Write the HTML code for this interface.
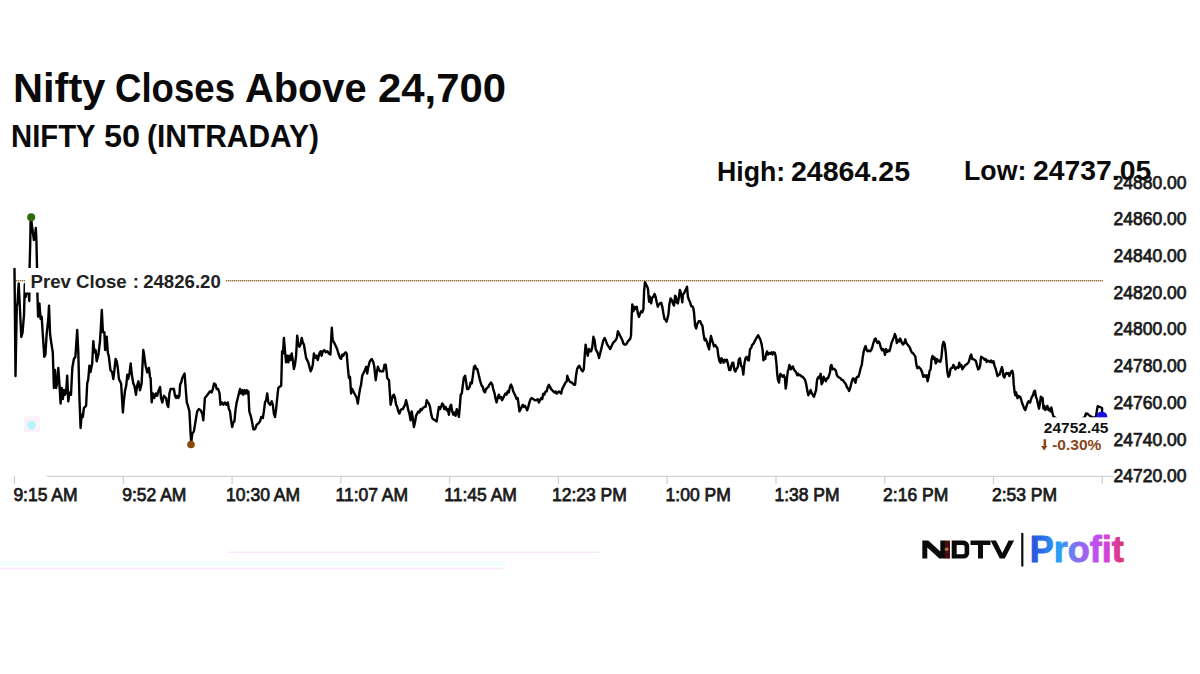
<!DOCTYPE html>
<html><head><meta charset="utf-8">
<style>
html,body{margin:0;padding:0;background:#fff;}
body{width:1200px;height:674px;position:relative;overflow:hidden;font-family:"Liberation Sans", sans-serif;}
.t{position:absolute;white-space:nowrap;font-weight:bold;color:#0a0a0a;line-height:1;transform-origin:0 0;}
#logo{position:absolute;left:0;top:0;}
</style></head><body>
<svg width="1200" height="674" viewBox="0 0 1200 674" style="position:absolute;left:0;top:0"><rect x="0" y="561" width="505" height="5" fill="#f3fdfe"/><line x1="228" y1="552.3" x2="600" y2="552.3" stroke="#fbe6fb" stroke-width="1.6"/><line x1="0" y1="568.5" x2="503" y2="568.5" stroke="#fbe4fb" stroke-width="1.6"/><line x1="46.5" y1="476.3" x2="1114" y2="476.3" stroke="#d4d4d4" stroke-width="1.2"/><line x1="14.5" y1="476" x2="14.5" y2="484" stroke="#d0d0d0" stroke-width="1.2"/><line x1="123.3" y1="476" x2="123.3" y2="484" stroke="#d0d0d0" stroke-width="1.2"/><line x1="232.1" y1="476" x2="232.1" y2="484" stroke="#d0d0d0" stroke-width="1.2"/><line x1="340.8" y1="476" x2="340.8" y2="484" stroke="#d0d0d0" stroke-width="1.2"/><line x1="449.6" y1="476" x2="449.6" y2="484" stroke="#d0d0d0" stroke-width="1.2"/><line x1="558.4" y1="476" x2="558.4" y2="484" stroke="#d0d0d0" stroke-width="1.2"/><line x1="667.2" y1="476" x2="667.2" y2="484" stroke="#d0d0d0" stroke-width="1.2"/><line x1="776.0" y1="476" x2="776.0" y2="484" stroke="#d0d0d0" stroke-width="1.2"/><line x1="884.7" y1="476" x2="884.7" y2="484" stroke="#d0d0d0" stroke-width="1.2"/><line x1="993.5" y1="476" x2="993.5" y2="484" stroke="#d0d0d0" stroke-width="1.2"/><line x1="1102.3" y1="476" x2="1102.3" y2="484" stroke="#d0d0d0" stroke-width="1.2"/><line x1="14" y1="280.8" x2="1103" y2="280.8" stroke="#d6b480" stroke-width="1.1"/><line x1="14" y1="280.8" x2="1103" y2="280.8" stroke="#6a5030" stroke-width="1.1" stroke-dasharray="1,1"/><rect x="24" y="416" width="16" height="16" fill="#fdf2fc"/><circle cx="31.5" cy="425.1" r="4.3" fill="#b4f6f8"/><path d="M14.5,269 L15.5,376 L16.8,306 L17.5,303 L18.7,283.4 L21.3,337 L22.5,333 L24,315 L24.8,284.3 L25.6,297 L26.5,292 L28.5,292.5 L29.3,301 L29.6,267 L30.2,245 L30.6,222 L31.2,218 L31.6,223 L33.9,240 L35,236 L35.8,228 L36.4,240 L37,267 L37.4,294 L38.1,316.7 L39.4,303.4 L40.6,319 L41.7,316.7 L42.8,334.5 L44.3,356.8 L45.4,354.6 L46.6,334.5 L48.3,319 L49,305.6 L50.1,334.5 L51.7,345.7 L52.8,352.4 L53.9,388 L55,370 L56.1,388 L57.2,383.5 L58.3,368 L59.4,383.5 L60.6,403.6 L61.7,388 L62.8,399 L63.9,390 L65,394.7 L66.1,392.5 L67.2,375.7 L68.3,401.4 L69.4,392.5 L71,394.7 L72.3,368 L73.9,359 L75.4,356.8 L77.2,330 L78.3,352.4 L79.4,396.9 L80.6,428 L81.7,414.7 L82.8,417 L83.9,408 L86.1,405.8 L87.2,383.5 L88.3,379 L89.4,365.7 L90.5,372 L92.2,363.5 L93.3,341.2 L94.4,352.4 L95.6,350 L96.7,361.3 L98.4,354.6 L100,341.2 L101.1,323.4 L101.8,310 L102.9,332.3 L104.4,332.3 L105.1,350 L106.7,336.8 L107.8,352.4 L108.9,356.8 L110.4,370 L112.2,372.4 L113.3,379 L114.4,370 L115.6,359 L116.7,361.3 L117.8,368 L118.9,379 L120,381.3 L121.1,383.5 L122.2,401.4 L122.9,412.5 L123.8,401.4 L125.1,390.2 L126.2,385.8 L127.3,374.6 L128.2,379 L129.6,372.4 L130.7,363.5 L131.8,374.6 L133.3,383.5 L134.4,385.8 L136,394.7 L137.1,385.8 L138.4,381.3 L140,390.2 L141.6,383.5 L143.3,350 L144.4,356.8 L145.6,365.7 L147.3,372.4 L148.9,368 L150,377 L150.6,378 L151.7,402.4 L152.8,393.5 L154.3,398 L155.7,393.5 L157.2,395.8 L158.3,391.3 L160.1,386.9 L161,398 L162.3,402.4 L163.9,395.8 L166.1,398 L167.2,404.7 L168.3,407 L169.4,393.5 L170.6,389 L172.1,389 L173.9,389 L175,395.8 L176.1,398 L177.2,395.8 L178.3,398 L179.4,395.8 L180.1,384.6 L181.2,382.4 L182.3,378 L183.4,375.7 L184.6,373.5 L185.4,384.6 L186.8,402.4 L188.3,407 L189.4,411.4 L190.6,433.6 L191.2,442.5 L192.3,433.6 L193.9,431.4 L195.7,420.3 L197.2,411.4 L198.8,409.1 L200.6,410.2 L202.3,413.6 L203.3,420.3 L204.9,398 L206.7,395.8 L208.4,393.5 L210,391.3 L211.6,392.4 L212.9,389 L214,383.5 L215.6,384.6 L216.7,389 L218.2,389 L219.6,393.5 L220.4,404.7 L221.8,402.4 L223.3,404.7 L224.9,402.4 L226.2,404.7 L227.8,402.4 L228.9,409.1 L230,411.4 L231.1,420.3 L232.2,427 L233.3,422.5 L234.4,421.4 L235.6,409.1 L236.7,402.4 L237.8,398 L238.9,393.5 L240,389 L241.1,393.5 L242.2,390.2 L243.3,394.7 L244.4,390.2 L245.6,393.5 L246.7,390.2 L247.8,393.5 L248.4,391.3 L249.3,411.4 L250.7,415.8 L252.2,422.5 L253.3,429.2 L255.1,429.2 L256.7,424.7 L258.2,423.6 L260,421.4 L261.2,417 L262.8,418 L263.9,411.4 L265,402.4 L266.1,400.2 L267.2,393.5 L268.3,402.4 L270.1,404.7 L271.7,401.3 L272.8,404.7 L273.9,413.6 L275,417 L276.1,409.1 L277.2,398 L278.3,388 L279.4,386.9 L281.2,385.7 L282.1,351.2 L283,353.5 L283.9,337.9 L285,351.2 L286.1,362.4 L287.2,355.7 L288.3,362.4 L289.4,355.7 L290.6,360.1 L291.7,353.5 L292.8,360.1 L293.9,369 L295,364.6 L296.1,355.7 L297.2,335.6 L298.3,344.5 L299.4,346.8 L300.6,344.5 L301.7,337.9 L302.8,342.3 L303.9,344.5 L305,351.2 L306.1,357.9 L307.2,360.1 L308.3,362.4 L309.4,366.8 L310.6,371.3 L311.7,369 L312.8,364.6 L313.9,353.5 L315.6,357.9 L316.7,355.7 L317.8,360.1 L319.3,353.5 L320.7,351.2 L321.6,355.7 L322.9,351.2 L324.4,350.1 L325.6,352.3 L327.3,351.2 L328.9,353.5 L330.4,354.6 L331.8,327.8 L332.7,340.1 L334,342.3 L335.6,345.7 L337.1,349 L338.4,353.5 L340,357.9 L341.1,359 L342.2,354.6 L343.3,355.7 L344.4,353.5 L345.6,352.3 L346.7,353.5 L347.8,366.8 L348.9,378 L350,376.8 L351.1,393.5 L352.2,389 L353.3,391.3 L354.4,393.5 L355.6,395.8 L356.7,398 L357.8,403.6 L358.9,395.8 L360,389 L361.1,384.6 L362.2,375.7 L363.3,373.5 L364.4,371.3 L366.1,366.8 L367.2,373.5 L368.3,366.8 L369.9,361.2 L371.7,359 L373.4,362.4 L374.3,366.8 L375.7,380.2 L376.6,373.5 L377.9,366.8 L378.8,369 L380.1,371.3 L381.7,371.3 L383.2,371.3 L384.6,364.6 L385.7,364.6 L386.6,371.3 L387.2,378 L389,380.2 L389.9,393.5 L390.6,404.7 L391.7,400.2 L392.8,395.8 L393.9,394.7 L395,398 L396.1,404.7 L397.2,406.9 L398.3,411.4 L399.4,413.6 L400.6,410.2 L401.7,409.1 L402.8,409.1 L403.9,406.9 L405,404.7 L406.1,400.2 L407.2,404.7 L408.3,410.2 L409.4,413.6 L410.6,420.3 L411.7,411.4 L412.8,418 L413.9,427 L415,422.5 L416.1,415.8 L417.2,413.6 L418.3,411.4 L419.4,412.5 L420.6,409.1 L421.7,410.2 L422.8,408 L424.4,406.9 L425.6,406.9 L426.7,400.2 L427.8,402.4 L428.9,403.6 L430,406.9 L431.1,413.6 L432.2,418 L433.3,419.2 L435.1,420.3 L436.7,421.4 L437.8,413.6 L438.9,406.9 L440,409.1 L441.1,406.9 L442.2,403.6 L443.3,404.7 L444.4,409.1 L445.6,406.9 L446.7,410.2 L447.8,409.1 L448.9,414.7 L450,406.9 L451.1,404.7 L452.2,411.4 L453.3,414.7 L454.4,412.5 L455.6,415.8 L456.7,409.1 L457.8,411.4 L458.9,416.9 L460,404.7 L460.7,394.7 L461.8,393.5 L462.9,384.6 L463.8,378 L465.1,375.7 L466.2,382.4 L467.1,389 L468.4,389 L469.6,386.9 L470.7,382.4 L471.8,383.5 L472.9,375.7 L474,366.8 L475.1,365.7 L476.2,369 L477.3,369 L478.4,373.5 L480,380.2 L480.6,382.4 L481.7,385.7 L482.8,386.9 L483.9,391.3 L485,392.4 L486.1,389 L487.2,388 L488.3,386.9 L489.4,384.6 L491,382.4 L492.3,384.6 L493.2,389 L494.6,393.5 L495.4,398 L496.6,402.4 L497.7,398 L498.8,394.7 L499.9,398 L501,396.9 L502.1,400.2 L503.2,398 L504.3,395.8 L505.4,393.5 L506.6,394.7 L507.7,391.3 L508.8,392.4 L509.9,386.9 L511,384.6 L512.1,386.9 L513.2,391.3 L514.3,393.5 L515.4,395.8 L516.6,399.1 L517.7,398 L518.6,404.7 L519.4,411.4 L520.6,409.1 L521.7,406.9 L522.8,404.7 L523.9,406.9 L525,405.8 L526.1,408 L527.2,410.2 L528.3,406.9 L529.4,402.4 L530.6,399.1 L531.7,398 L533.2,399.1 L535,400.2 L536.2,400.3 L537.8,399.2 L538.9,402.5 L540,400.3 L541.1,398 L542.2,399.2 L543.3,393.6 L544.4,394.7 L545.6,391.4 L546.7,391.4 L547.8,386.9 L548.9,384.7 L550,386.9 L551.1,389.1 L552.2,390.2 L553.3,391.4 L554.4,392.5 L555.6,391.4 L556.7,393.6 L557.8,392.5 L558.9,391.4 L560,392.5 L561.1,393.6 L562.2,389.1 L563.3,386.9 L564.4,384.7 L565.6,382.4 L566.7,381.3 L567.3,375.8 L568.4,379.1 L569.6,381.3 L570.7,382.4 L571.8,382.4 L572.9,383.6 L574,384.7 L575.1,384.7 L576,375.8 L577.1,369.1 L578.2,366.9 L579.3,365.7 L580.4,368 L581.6,370.2 L582.7,371.3 L583.8,369.1 L584.7,355.7 L585.6,344.6 L586.7,351.3 L587.8,355.7 L588.9,349 L590,351.3 L591.2,351.3 L592.3,346.9 L593.4,336.8 L594.6,340.2 L595.7,349.1 L596.8,351.3 L597.9,353.5 L599,358 L600.1,353.5 L601.2,349.1 L602.3,344.6 L603.4,340.2 L604.6,338 L605.7,340.2 L606.8,343.5 L607.9,345.7 L609,346.9 L610.1,349.1 L611.2,346.9 L612.3,344.6 L613.4,342.4 L614.6,341.3 L615.7,340.2 L616.8,338 L617.9,331.3 L619,333.5 L620.1,335.7 L621.2,338 L622.3,340.2 L623.4,343.5 L624.6,344.6 L625.7,344.6 L626.8,343.5 L627.9,341.3 L629,340.2 L630.1,339.1 L631,335.7 L631.7,315.7 L632.3,304.5 L633.4,311.2 L634.6,306.8 L635.7,309 L636.8,306.8 L637.9,313.5 L639,316.8 L640.1,313.5 L641.2,311.2 L642.3,312.3 L643.4,309 L644.1,291.2 L645,282.2 L646.1,284.5 L647.2,286.7 L648,288.9 L648.7,297.8 L649.1,301.7 L650,296.7 L651.1,303.4 L652.2,297.8 L653.4,296.7 L654.5,293.9 L655.6,296.7 L656.7,302.3 L657.8,306.7 L658.9,304.5 L660,303.4 L661.2,302.8 L662.3,306.7 L663.4,313.4 L664.5,318.9 L665.6,320 L666.5,321.7 L667.3,318.9 L668.4,314.5 L669.5,303.4 L670.6,298.4 L671.7,300 L672.9,303.4 L674,305.6 L675.1,295.6 L675.9,296.7 L676.7,302.3 L677.9,303.4 L679,296.7 L679.9,290 L680.6,292.2 L681.4,295.6 L682.3,302.3 L682.9,294.5 L684,293.4 L685.1,291.1 L686.2,288.9 L687,286.7 L687.9,296.7 L689,300 L690.1,302.3 L691.2,306.2 L692.3,306.2 L693.2,307.8 L694,312.3 L695.1,325.6 L696.2,328.6 L697.2,324.1 L698.7,321.2 L700.2,321.2 L701.2,324.1 L702.4,325.6 L703.6,334.5 L704.7,340.4 L705.7,339 L706.9,341.9 L708.1,346.4 L709.1,349.3 L710.2,340.4 L711,336 L712.1,340.4 L713.1,343.4 L714,346.4 L715.1,344.9 L716.1,346.4 L717.3,347.9 L718.5,356.8 L719.5,361.2 L720.6,362.7 L721.4,358.2 L722.5,359.7 L723.5,362.7 L724.7,359.7 L725.9,361.2 L726.9,359.7 L728,364.2 L729.2,370.1 L730.4,370.1 L731.4,365.7 L732.4,362.7 L733.3,362.7 L734.4,370.1 L735.4,371.6 L736.6,368.6 L737.8,367.2 L738.8,359.7 L739.9,358.2 L741.1,365.7 L742.3,367.2 L743.3,374.6 L744.3,364.2 L745.5,358.2 L746.7,356.8 L747.7,359.7 L748.8,360.5 L750,349.3 L751.2,347.9 L752.2,344.9 L753.7,343.4 L755,340.4 L755.6,339.7 L757.1,336.7 L758.2,335.2 L759.2,337.4 L760.4,339.7 L761.6,344.1 L762.6,350.1 L763.4,360.4 L764.1,357.5 L765.2,359 L766,354.5 L767.1,351.5 L768.1,354.5 L769.3,353 L770.5,353.8 L771.5,352.3 L772.6,354.5 L773.8,352.3 L774.8,353 L775.6,356 L776.4,363.4 L777.2,373.8 L777.9,379.7 L779,382.7 L779.7,376.8 L780.5,373.8 L781.5,375.3 L782.7,376.8 L783.9,375.3 L784.9,378.2 L785.7,388.6 L786.4,384.2 L787.1,376.8 L787.9,370.8 L788.6,369.3 L789.4,364.9 L790.1,366.4 L790.9,369.3 L791.9,367.9 L792.8,366.4 L793.8,369.3 L794.9,370.8 L796.1,372.3 L797.3,375.3 L798.3,373.8 L799.3,375.3 L800.5,375.3 L801.7,376.8 L802.7,376.8 L803.8,378.2 L805,379.7 L806.2,384.2 L807.2,390.1 L808.3,395.3 L809.5,393.1 L810.6,390.1 L811.7,393.1 L812.7,394.6 L813.9,396.8 L815.1,393.1 L816.1,390.1 L816.9,381.2 L817.6,378.2 L818.7,376.8 L819.6,378.2 L820.6,373.8 L821.6,384.2 L822.5,382.7 L823.6,376.8 L824.6,379 L825.8,381.2 L827,378.2 L828,378.2 L829.1,375.3 L830,372.3 L830.6,366.4 L831.4,364.9 L832.5,369.3 L833.5,368.6 L834.7,369.3 L835.9,370.8 L836.9,375.3 L838,376.8 L839.2,377.5 L840.4,378.2 L841.4,379.7 L842.4,379.7 L843.6,381.2 L844.8,382.7 L845.9,384.2 L846.9,387.2 L848.1,388.6 L849.1,390.9 L850,388.6 L851.1,384.2 L852.3,379.7 L853.3,378.2 L854.3,379.7 L855.5,382.7 L856.3,378.2 L857.3,376.8 L858.5,376.8 L859.7,372.3 L860.7,367.9 L861.8,364.9 L862.7,357.5 L863.7,351.5 L865,347.1 L865.6,346 L866.7,350.4 L867.7,351.2 L868.9,350.4 L870.1,351.2 L871.1,350.4 L872.2,347.5 L873.4,343 L874.6,339.3 L875.6,338.6 L876.6,341.5 L877.5,343 L878.6,341.5 L879.6,343 L880.8,347.5 L882,350.4 L883,349 L884.1,350.4 L885,354.9 L886,349 L887,351.9 L888.2,350.4 L889.4,351.2 L890.5,347.5 L891.5,343 L892.7,340.1 L893.9,337.1 L894.9,334.1 L896,337.1 L896.8,343 L897.9,340.1 L898.9,341.5 L900.1,338.6 L900.9,340.1 L901.9,343 L903.1,344.5 L904.3,343 L905.3,339.3 L906.4,343 L907.5,344.5 L908.7,346 L909.8,347.5 L910.8,350.4 L912,352.7 L913.2,353.4 L914.2,354.9 L915.3,356.4 L916.5,365.3 L917.4,368.2 L918.7,366.8 L920,368.2 L920.9,369.3 L922.1,372.3 L923.2,376.8 L924.2,375.3 L925.4,376.8 L926.6,375.3 L927.6,381.2 L928.7,376.8 L929.6,370.8 L930.6,369.3 L931.6,359 L932.5,356 L933.6,359 L934.6,357.5 L935.8,363.4 L937,359 L938,361.2 L939.1,360.4 L940.3,361.9 L941.4,357.5 L942.5,345.6 L943.5,341.9 L944.7,344.1 L945.8,353 L946.6,363.4 L947.4,372.3 L948.4,376.8 L949.5,375.3 L950.4,369.3 L951.4,367.9 L952.4,367.9 L953.3,364.9 L954.4,366.4 L955.4,369.3 L956.3,367.9 L957.3,367.1 L958.4,367.9 L959.3,362.7 L960.3,366.4 L961.4,364.9 L962.3,369.3 L963.3,367.9 L964.3,366.4 L965.5,364.9 L966.7,364.2 L967.7,363.4 L968.8,361.9 L970,357.5 L971.2,354.5 L972.2,359 L973.2,359 L974.4,359.7 L975.9,361.2 L977.1,365.6 L978.2,369.3 L979.2,368.6 L980.1,365.6 L981.1,356.7 L982.2,357.4 L983.4,358.2 L984.6,359.7 L985.6,358.9 L986.6,361.9 L987.8,360.4 L989,361.2 L990.1,361.9 L991.1,360.4 L992.3,362.6 L993.5,361.2 L994.5,365.6 L995.6,368.6 L996.4,371.5 L997.5,376 L998.5,374.5 L999.7,374.5 L1000.9,370.1 L1001.9,367.1 L1002.7,370.1 L1003.4,376 L1004.5,377.5 L1005.4,374.5 L1006.4,373 L1007.4,373.8 L1008.3,373 L1009.4,376 L1010.4,373 L1011.3,371.5 L1012.3,370.8 L1013.1,374.5 L1013.8,384.9 L1014.6,392.3 L1015.3,395.3 L1016.1,392.3 L1016.8,395.3 L1017.5,398.2 L1018.7,396 L1019.8,396.8 L1020.8,398.2 L1022,402.7 L1023.2,405.7 L1024.2,408.6 L1025.3,410.1 L1026.5,406.4 L1027.7,402.7 L1028.7,401.2 L1030,402.7 L1031,399.4 L1031.9,396.7 L1033,395.4 L1034.1,391.4 L1035,390.7 L1035.9,396.7 L1037,399.4 L1038.1,404.7 L1039,408.7 L1040,403.4 L1040.8,396.7 L1041.7,397.4 L1042.6,398 L1043.4,408.7 L1044.4,406 L1045.3,410 L1046.4,408.7 L1047.4,406 L1048.4,410 L1049.3,408.7 L1050.4,411.4 L1051.4,407.4 L1052.4,412.7 L1053.3,416.1 L1058,420 L1070,422 L1080,420 L1084.8,417 L1086,413.5 L1088,414 L1090,416 L1092.4,417 L1095,418 L1096,416 L1097.7,406.1 L1100,407 L1102.1,408 L1102,416.5" fill="none" stroke="#000" stroke-width="2.4" stroke-linejoin="round" stroke-linecap="round"/><circle cx="31.2" cy="217.2" r="4" fill="#2e6b0c"/><circle cx="191" cy="444.5" r="3.8" fill="#8a4a0c"/><circle cx="1101.8" cy="417" r="5.6" fill="#1a10e0"/><rect x="25" y="268" width="200.5" height="24.5" fill="#fff"/><text y="287.6" font-family='"Liberation Sans", sans-serif' font-weight="bold" font-size="18.6" fill="#222"><tspan x="30.6">Prev Close</tspan><tspan x="132.8">:</tspan><tspan x="143.2">24826.20</tspan></text><rect x="1039" y="417.3" width="70" height="40" fill="#fff"/><text x="1043.8" y="433.4" font-family='"Liberation Sans", sans-serif' font-weight="bold" font-size="15.5" fill="#111">24752.45</text><text x="1052.2" y="449.9" font-family='"Liberation Sans", sans-serif' font-weight="bold" font-size="15.5" fill="#87461a">-0.30%</text><path d="M1043.6,439.2 h2.5 v6.8 h1.3 l-3.2,4.6 l-3.2,-4.6 h2.6 z" fill="#87461a"/><text x="45.5" y="501.2" text-anchor="middle" font-family='"Liberation Sans", sans-serif' font-size="17.5" fill="#1a1a1a" stroke="#1a1a1a" stroke-width="0.75">9:15 AM</text><text x="154.3" y="501.2" text-anchor="middle" font-family='"Liberation Sans", sans-serif' font-size="17.5" fill="#1a1a1a" stroke="#1a1a1a" stroke-width="0.75">9:52 AM</text><text x="263.1" y="501.2" text-anchor="middle" font-family='"Liberation Sans", sans-serif' font-size="17.5" fill="#1a1a1a" stroke="#1a1a1a" stroke-width="0.75">10:30 AM</text><text x="371.8" y="501.2" text-anchor="middle" font-family='"Liberation Sans", sans-serif' font-size="17.5" fill="#1a1a1a" stroke="#1a1a1a" stroke-width="0.75">11:07 AM</text><text x="480.6" y="501.2" text-anchor="middle" font-family='"Liberation Sans", sans-serif' font-size="17.5" fill="#1a1a1a" stroke="#1a1a1a" stroke-width="0.75">11:45 AM</text><text x="589.4" y="501.2" text-anchor="middle" font-family='"Liberation Sans", sans-serif' font-size="17.5" fill="#1a1a1a" stroke="#1a1a1a" stroke-width="0.75">12:23 PM</text><text x="698.2" y="501.2" text-anchor="middle" font-family='"Liberation Sans", sans-serif' font-size="17.5" fill="#1a1a1a" stroke="#1a1a1a" stroke-width="0.75">1:00 PM</text><text x="807.0" y="501.2" text-anchor="middle" font-family='"Liberation Sans", sans-serif' font-size="17.5" fill="#1a1a1a" stroke="#1a1a1a" stroke-width="0.75">1:38 PM</text><text x="915.7" y="501.2" text-anchor="middle" font-family='"Liberation Sans", sans-serif' font-size="17.5" fill="#1a1a1a" stroke="#1a1a1a" stroke-width="0.75">2:16 PM</text><text x="1024.5" y="501.2" text-anchor="middle" font-family='"Liberation Sans", sans-serif' font-size="17.5" fill="#1a1a1a" stroke="#1a1a1a" stroke-width="0.75">2:53 PM</text><text x="1113.6" y="188.5" font-family='"Liberation Sans", sans-serif' font-size="17.5" fill="#1a1a1a" stroke="#1a1a1a" stroke-width="0.75">24880.00</text><text x="1113.6" y="225.2" font-family='"Liberation Sans", sans-serif' font-size="17.5" fill="#1a1a1a" stroke="#1a1a1a" stroke-width="0.75">24860.00</text><text x="1113.6" y="261.9" font-family='"Liberation Sans", sans-serif' font-size="17.5" fill="#1a1a1a" stroke="#1a1a1a" stroke-width="0.75">24840.00</text><text x="1113.6" y="298.7" font-family='"Liberation Sans", sans-serif' font-size="17.5" fill="#1a1a1a" stroke="#1a1a1a" stroke-width="0.75">24820.00</text><text x="1113.6" y="335.4" font-family='"Liberation Sans", sans-serif' font-size="17.5" fill="#1a1a1a" stroke="#1a1a1a" stroke-width="0.75">24800.00</text><text x="1113.6" y="372.2" font-family='"Liberation Sans", sans-serif' font-size="17.5" fill="#1a1a1a" stroke="#1a1a1a" stroke-width="0.75">24780.00</text><text x="1113.6" y="408.9" font-family='"Liberation Sans", sans-serif' font-size="17.5" fill="#1a1a1a" stroke="#1a1a1a" stroke-width="0.75">24760.00</text><text x="1113.6" y="445.6" font-family='"Liberation Sans", sans-serif' font-size="17.5" fill="#1a1a1a" stroke="#1a1a1a" stroke-width="0.75">24740.00</text><text x="1113.6" y="482.4" font-family='"Liberation Sans", sans-serif' font-size="17.5" fill="#1a1a1a" stroke="#1a1a1a" stroke-width="0.75">24720.00</text></svg>
<div class="t" style="left:12.54px;top:68.2px;font-size:40.8px;transform:scaleX(1.0195)">Nifty</div>
<div class="t" style="left:115.11px;top:68.2px;font-size:40.8px;transform:scaleX(0.8969)">Closes</div>
<div class="t" style="left:245.22px;top:68.2px;font-size:40.8px;transform:scaleX(0.9754)">Above</div>
<div class="t" style="left:378.07px;top:68.2px;font-size:40.8px;transform:scaleX(1.0262)">24,700</div>
<div class="t" style="left:10.86px;top:121.3px;font-size:31px;transform:scaleX(0.9443)">NIFTY</div>
<div class="t" style="left:103.95px;top:121.3px;font-size:31px;transform:scaleX(1.0469)">50</div>
<div class="t" style="left:147.37px;top:121.3px;font-size:31px;transform:scaleX(0.9657)">(INTRADAY)</div>
<div class="t" style="left:716.84px;top:157.5px;font-size:28px;transform:scaleX(0.953)">High:</div>
<div class="t" style="left:791.28px;top:157.5px;font-size:28px;transform:scaleX(1.0191)">24864.25</div>
<div class="t" style="left:963.99px;top:157.2px;font-size:28px;transform:scaleX(0.9541)">Low:</div>
<div class="t" style="left:1032.74px;top:157.2px;font-size:28px;transform:scaleX(1.0117)">24737.05</div>
<svg id="logo" width="1200" height="674" viewBox="0 0 1200 674" style="position:absolute;left:0;top:0">
<defs><linearGradient id="pg" x1="1032" y1="0" x2="1124" y2="0" gradientUnits="userSpaceOnUse">
<stop offset="0" stop-color="#2a52dc"/><stop offset="0.3" stop-color="#2aa2f6"/><stop offset="0.5" stop-color="#8a6ef2"/><stop offset="0.72" stop-color="#c64cf0"/><stop offset="0.86" stop-color="#d840c8"/><stop offset="1" stop-color="#dc3464"/></linearGradient></defs>
<g fill="#0a0a0a">
<path d="M922.3,540.6 h6 l12,11 v-11 h5 v18 h-6 l-12,-11 v11 h-5 z"/>
<rect x="945" y="540.6" width="5" height="18" fill="#4a0c10"/>
<circle cx="946.6" cy="549.3" r="1.8" fill="#b07a3a"/>
<path d="M951.7,540.6 h12 a5.5,5.5 0 0 1 5.5,5.5 v7 a5.5,5.5 0 0 1 -5.5,5.5 h-12 z M956.7,545 v9.3 h6.3 a1.6,1.6 0 0 0 1.6,-1.6 v-6.1 a1.6,1.6 0 0 0 -1.6,-1.6 z" fill-rule="evenodd"/>
<path d="M970.5,540.6 h20 v4.3 h-7.5 v13.7 h-5 v-13.7 h-7.5 z"/>
<path d="M990.5,540.6 h5.5 l6.3,12.5 l6.3,-12.5 h5.5 l-9.3,18 h-5 z"/>
<rect x="1021.2" y="532.8" width="2.2" height="34" rx="1"/>
</g>
<text x="1029.7" y="562.3" font-family='"Liberation Sans", sans-serif' font-weight="bold" font-size="36" fill="url(#pg)" stroke="url(#pg)" stroke-width="0.9" stroke-linejoin="round">Profit</text>
</svg>
</body></html>
